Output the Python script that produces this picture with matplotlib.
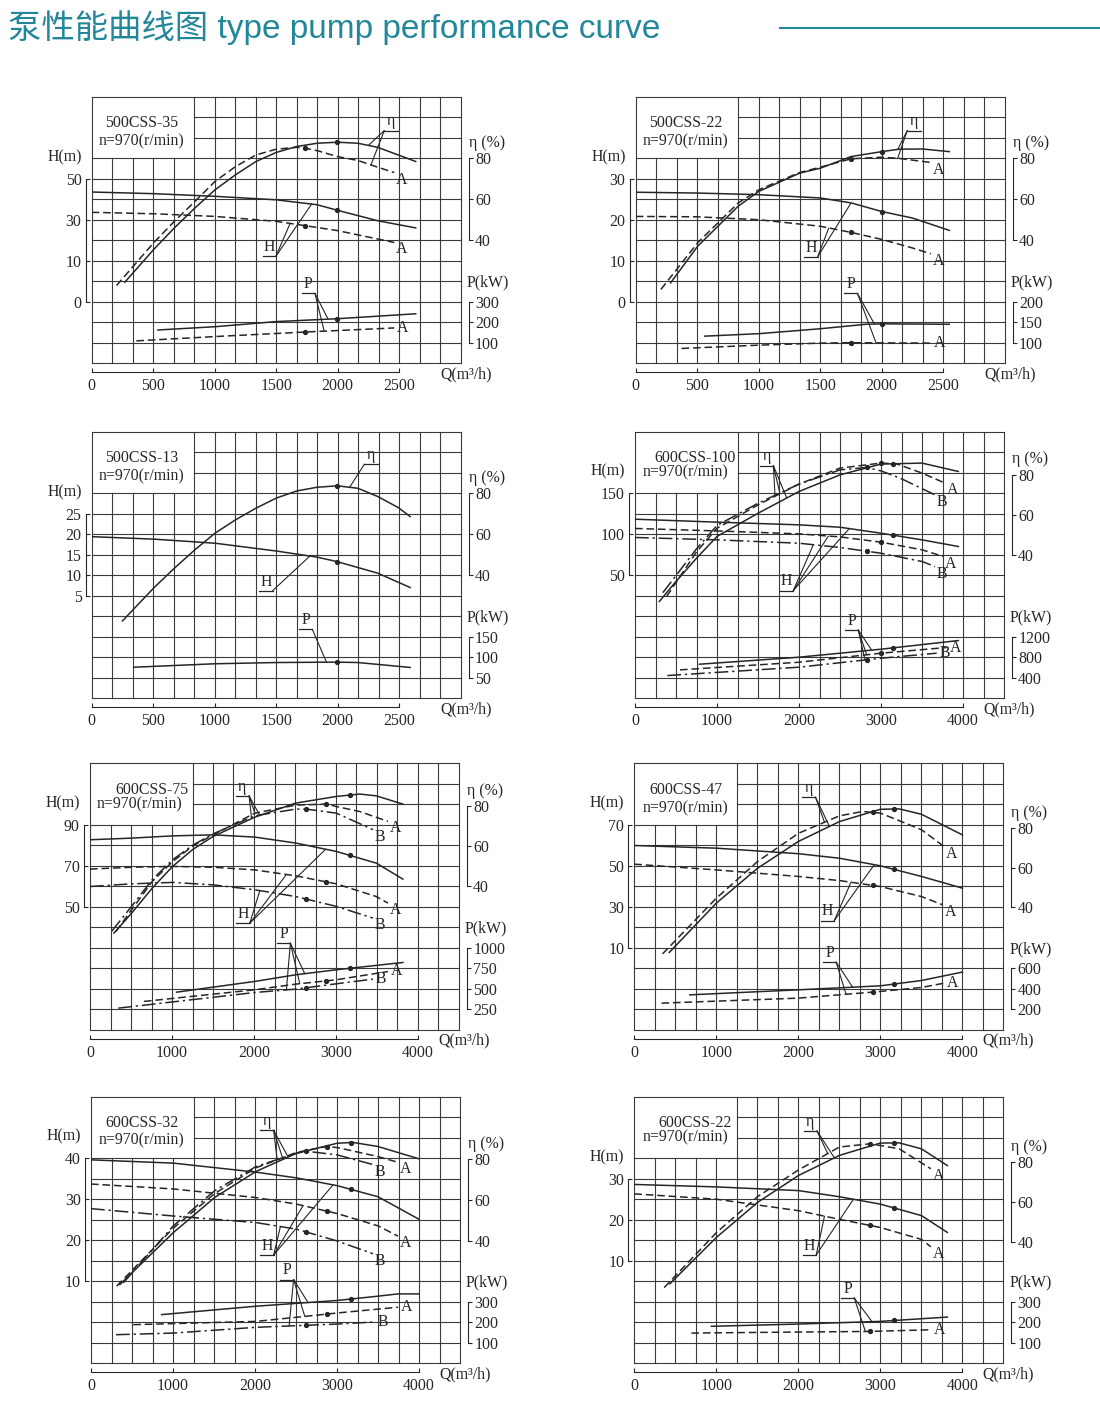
import matplotlib.pyplot as plt
from matplotlib.lines import Line2D
import numpy as np

plt.rcParams['font.family'] = ['Liberation Serif', 'DejaVu Serif']
plt.rcParams['axes.linewidth'] = 0.8

INK = '#262626'
GRID = '#3a3a3a'
TEAL = '#23879a'
FS = 11.4
PT = 72 / 100.0          # points per pixel (dpi 100)
FW, FH = 1100.0, 1409.0

### Data (Q in m3/h, H in m, eta in %, P in kW)
# 500CSS-35
a35_H_q = [0, 503, 1003, 1500, 1833, 1997, 2325, 2634]
a35_H = [43.5, 42.7, 41.4, 39.7, 37.3, 34.6, 29.5, 26.0]
a35_HA_q = [0, 503, 1003, 1500, 1734, 1997, 2460]
a35_HA = [33.6, 32.9, 31.6, 29.2, 27.1, 24.7, 18.9]
a35_E_q = [269, 503, 672, 839, 1003, 1169, 1336, 1500, 1667, 1833, 1997, 2164, 2325, 2492, 2634]
a35_E = [19.5, 35.4, 46.0, 55.7, 64.6, 71.9, 78.4, 82.8, 85.7, 87.3, 87.8, 87.3, 85.3, 81.6, 78.4]
a35_EA_q = [202, 503, 672, 839, 1003, 1169, 1336, 1500, 1667, 1734, 1833, 1997, 2164, 2325, 2460]
a35_EA = [17.9, 38.7, 49.2, 58.9, 68.7, 75.9, 81.6, 84.4, 85.3, 84.9, 83.7, 80.8, 78.9, 75.6, 73.0]
a35_P_q = [538, 1003, 1500, 1997, 2634]
a35_P = [162, 178, 203, 217, 241]
a35_PA_q = [363, 1003, 1734, 2460]
a35_PA = [109, 130, 152, 172]

# 500CSS-22
a22_H_q = [0, 503, 1000, 1500, 1751, 2000, 2251, 2549]
a22_H = [26.7, 26.5, 26.1, 25.3, 24.1, 22.0, 20.4, 17.4]
a22_HA_q = [0, 503, 1000, 1500, 1751, 2000, 2251, 2400]
a22_HA = [20.8, 20.7, 20.0, 18.4, 16.9, 15.2, 13.1, 11.7]
a22_E_q = [284, 503, 832, 1000, 1332, 1500, 1751, 2000, 2143, 2332, 2549]
a22_E = [19.2, 37.0, 56.5, 63.8, 72.7, 75.1, 80.8, 83.2, 84.4, 84.5, 83.2]
a22_EA_q = [205, 503, 832, 1000, 1332, 1500, 1751, 2000, 2143, 2400]
a22_EA = [16.0, 38.7, 58.1, 64.6, 73.0, 75.6, 79.7, 80.5, 79.9, 77.9]
a22_P_q = [562, 1000, 1500, 1873, 2000, 2549]
a22_P = [116, 122, 134, 145, 146, 145]
a22_PA_q = [373, 1000, 1500, 1751, 2400]
a22_PA = [86, 94, 99, 100, 99]

# 500CSS-13
a13_H_q = [0, 503, 1003, 1500, 1833, 1997, 2325, 2589]
a13_H = [19.4, 18.8, 17.8, 15.9, 14.4, 13.3, 10.5, 7.0]
a13_E_q = [250, 503, 672, 839, 1003, 1169, 1336, 1500, 1667, 1833, 1997, 2164, 2325, 2492, 2589]
a13_E = [17.7, 33.7, 43.4, 52.4, 60.5, 67.0, 72.7, 77.6, 81.1, 82.9, 83.6, 82.4, 78.4, 73.0, 68.6]
a13_P_q = [349, 1003, 1500, 1997, 2164, 2589]
a13_P = [75.6, 84, 87, 88, 87, 75]

# 600CSS-100
b100_H_q = [0, 1000, 2000, 2500, 3000, 3500, 3943]
b100_H = [118.3, 114.7, 111.4, 108.5, 101.2, 93.1, 85.0]
b100_HA_q = [0, 1000, 2000, 2500, 3000, 3500, 3760]
b100_HA = [107.0, 104.0, 100.4, 96.7, 90.3, 81.0, 72.8]
b100_HB_q = [0, 1000, 2000, 2500, 3000, 3500, 3659]
b100_HB = [96.0, 93.1, 89.0, 83.8, 76.8, 66.7, 60.6]
b100_E_q = [297, 500, 752, 1000, 1500, 2000, 2500, 3000, 3500, 3943]
b100_E = [16.6, 26.6, 38.3, 49.1, 60.7, 71.6, 79.9, 85.3, 85.8, 81.6]
b100_EA_q = [386, 752, 1000, 1500, 2000, 2500, 3000, 3191, 3500, 3780]
b100_EA = [19.1, 41.5, 53.2, 64.9, 75.3, 83.3, 85.8, 85.4, 80.8, 75.8]
b100_EB_q = [340, 752, 1000, 1500, 2000, 2500, 2825, 3000, 3232, 3659]
b100_EB = [21.0, 43.0, 54.6, 65.7, 75.3, 82.4, 83.6, 81.9, 78.3, 69.9]
b100_P_q = [785, 2000, 3000, 3943]
b100_P = [663, 800, 956, 1125]
b100_PA_q = [549, 2000, 3000, 3800]
b100_PA = [553, 702, 878, 989]
b100_PB_q = [394, 2000, 3000, 3679]
b100_PB = [442, 605, 780, 878]

# 600CSS-75
b75_H_q = [0, 507, 1007, 1502, 2010, 2509, 3004, 3492, 3816]
b75_H = [82.7, 83.5, 84.6, 85.1, 84.0, 81.1, 77.0, 71.3, 63.5]
b75_HA_q = [0, 507, 1007, 1502, 2010, 2509, 3004, 3492, 3634]
b75_HA = [68.4, 69.3, 69.7, 69.3, 68.0, 65.1, 61.2, 55.0, 51.8]
b75_HB_q = [0, 507, 1007, 1502, 2010, 2509, 3004, 3451]
b75_HB = [59.9, 61.2, 61.9, 60.7, 58.3, 55.0, 50.2, 44.5]
b75_E_q = [292, 507, 759, 1007, 1259, 1502, 2010, 2509, 3004, 3289, 3492, 3816]
b75_E = [16.7, 26.6, 39.1, 49.9, 58.5, 64.8, 74.4, 81.4, 84.7, 85.9, 85.0, 80.9]
b75_EA_q = [317, 507, 759, 1007, 1259, 1502, 2010, 2509, 2883, 3004, 3289, 3634]
b75_EA = [17.6, 28.3, 42.4, 52.3, 60.2, 65.6, 76.4, 80.4, 80.9, 79.7, 77.2, 72.3]
b75_EB_q = [264, 507, 759, 1007, 1259, 1502, 2010, 2509, 2639, 3004, 3451]
b75_EB = [17.6, 30.0, 43.3, 53.2, 60.6, 66.1, 75.1, 78.4, 78.4, 76.4, 68.2]
b75_P_q = [1056, 2010, 2509, 3004, 3816]
b75_P = [459, 590, 671, 732, 821]
b75_PA_q = [658, 2010, 2509, 3004, 3634]
b75_PA = [346, 488, 557, 610, 711]
b75_PB_q = [345, 2010, 2509, 3004, 3451]
b75_PB = [264, 455, 496, 561, 618]

# 600CSS-47
b47_H_q = [0, 1001, 2002, 2501, 3000, 3502, 4001]
b47_H = [59.9, 58.6, 55.9, 53.7, 50.0, 44.8, 39.1]
b47_HA_q = [0, 1001, 2002, 2501, 3000, 3502, 3758]
b47_HA = [50.8, 48.0, 44.8, 42.8, 39.9, 35.0, 31.0]
b47_E_q = [426, 1001, 1504, 2002, 2501, 3000, 3231, 3502, 4001]
b47_E = [17.3, 42.2, 59.8, 73.3, 83.3, 89.5, 89.7, 87.0, 76.6]
b47_EA_q = [345, 1001, 1504, 2002, 2501, 2785, 3000, 3502, 3778]
b47_EA = [16.6, 44.7, 63.2, 77.4, 86.2, 88.4, 87.6, 79.2, 70.7]
b47_P_q = [677, 2002, 3000, 3502, 4001]
b47_P = [341, 390, 429, 481, 563]
b47_PA_q = [332, 2002, 3000, 3502, 3778]
b47_PA = [260, 309, 374, 413, 455]

# 600CSS-32
b32_H_q = [0, 1004, 2011, 2505, 3003, 3500, 4000]
b32_H = [39.6, 38.8, 36.6, 35.2, 33.3, 30.6, 25.1]
b32_HA_q = [0, 1004, 2011, 2505, 3003, 3500, 3743]
b32_HA = [33.7, 32.5, 30.4, 28.8, 26.5, 23.5, 21.0]
b32_HB_q = [0, 1004, 2011, 2505, 3003, 3439]
b32_HB = [27.7, 25.9, 24.3, 22.7, 19.8, 16.7]
b32_E_q = [353, 1004, 1510, 2011, 2505, 3003, 3195, 3500, 4000]
b32_E = [18.9, 44.2, 61.4, 74.0, 82.9, 87.8, 88.2, 86.2, 80.2]
b32_EA_q = [313, 1004, 1510, 2011, 2505, 2870, 3003, 3500, 3743]
b32_EA = [18.1, 46.4, 63.3, 75.8, 83.3, 86.2, 85.7, 81.3, 78.5]
b32_EB_q = [394, 1004, 1510, 2011, 2505, 2627, 3003, 3439]
b32_EB = [19.7, 47.5, 64.7, 76.4, 82.9, 83.9, 82.1, 77.4]
b32_P_q = [861, 2011, 3003, 3500, 3743, 4000]
b32_P = [237, 278, 306, 327, 338, 338]
b32_PA_q = [516, 2011, 2627, 3003, 3743]
b32_PA = [188, 204, 229, 245, 273]
b32_PB_q = [305, 1004, 2011, 2627, 3003, 3459]
b32_PB = [139, 147, 175, 185, 191, 201]

# 600CSS-22
b22_H_q = [0, 1001, 2002, 2501, 3000, 3502, 3818]
b22_H = [28.6, 28.0, 27.1, 25.6, 23.8, 21.0, 16.9]
b22_HA_q = [0, 1001, 2002, 2501, 3000, 3502, 3616]
b22_HA = [26.3, 25.0, 22.2, 20.1, 18.1, 15.2, 13.4]
b22_E_q = [434, 1001, 1504, 2002, 2501, 3000, 3231, 3502, 3818]
b22_E = [18.8, 42.1, 59.7, 73.2, 83.3, 89.5, 89.6, 86.6, 78.2]
b22_EA_q = [365, 1001, 1504, 2002, 2501, 2866, 3000, 3231, 3616]
b22_EA = [16.9, 44.5, 62.6, 76.0, 87.5, 89.1, 88.3, 86.6, 76.6]
b22_P_q = [940, 2002, 3000, 3818]
b22_P = [180, 191, 204, 225]
b22_PA_q = [697, 2002, 2866, 3616]
b22_PA = [147, 152, 155, 163]

Q_SMALL = [0, 500, 1000, 1500, 2000, 2500]
Q_BIG = [0, 1000, 2000, 3000, 4000]
E_TICKS = [40, 60, 80]

panels = [
    dict(name='500CSS-35', left=91.7, top=96.7, qmax=3000, qticks=Q_SMALL,
         hlim=(-40, 90), hticks=[50, 30, 10, -10], hlabels=['50', '30', '10', '0'],
         elim=(-20, 110), plim=(0, 1300), pticks=[100, 200, 300],
         curves={'H': (a35_H_q, a35_H), 'HA': (a35_HA_q, a35_HA),
                 'E': (a35_E_q, a35_E), 'EA': (a35_EA_q, a35_EA),
                 'P': (a35_P_q, a35_P), 'PA': (a35_PA_q, a35_PA)},
         marks={'': 1997, 'A': 1734}, namepos=(0.136, 0.136, 0.832),
         leaders=[('η', 0.793, 0.873, 1, [('E', 2250), ('EA', 2270)]),
                  ('H', 0.499, 0.401, -1, [('H', 1788), ('HA', 1613)]),
                  ('P', 0.605, 0.262, -1, [('P', 1922), ('PA', 1890)])]),
    dict(name='500CSS-22', left=635.7, top=96.7, qmax=3000, qticks=Q_SMALL,
         hlim=(-15, 50), hticks=[30, 20, 10, 0], hlabels=['30', '20', '10', '0'],
         elim=(-20, 110), plim=(50, 700), pticks=[100, 150, 200],
         curves={'H': (a22_H_q, a22_H), 'HA': (a22_HA_q, a22_HA),
                 'E': (a22_E_q, a22_E), 'EA': (a22_EA_q, a22_EA),
                 'P': (a22_P_q, a22_P), 'PA': (a22_PA_q, a22_PA)},
         marks={'': 2000, 'A': 1751}, namepos=(0.136, 0.136, 0.832),
         leaders=[('η', 0.736, 0.873, 1, [('E', 2130), ('EA', 2130)]),
                  ('H', 0.493, 0.399, -1, [('H', 1751), ('HA', 1570)]),
                  ('P', 0.601, 0.262, -1, [('P', 1941), ('PA', 1954)])]),
    dict(name='500CSS-13', left=91.7, top=431.7, qmax=3000, qticks=Q_SMALL,
         hlim=(-20, 45), hticks=[25, 20, 15, 10, 5], hlabels=['25', '20', '15', '10', '5'],
         elim=(-20, 110), plim=(0, 650), pticks=[50, 100, 150],
         curves={'H': (a13_H_q, a13_H), 'E': (a13_E_q, a13_E), 'P': (a13_P_q, a13_P)},
         marks={'': 1997}, namepos=(0.136, 0.136, 0.832),
         leaders=[('η', 0.739, 0.878, 1, [('E', 2097)]),
                  ('H', 0.490, 0.403, -1, [('H', 1774)]),
                  ('P', 0.598, 0.258, -1, [('P', 1909)])]),
    dict(name='600CSS-100', left=635.0, top=431.7, qmax=4500, qticks=Q_BIG,
         hlim=(-100, 225), hticks=[150, 100, 50], hlabels=['150', '100', '50'],
         elim=(-31.8, 101.5), plim=(0, 5200), pticks=[400, 800, 1200],
         curves={'H': (b100_H_q, b100_H), 'HA': (b100_HA_q, b100_HA), 'HB': (b100_HB_q, b100_HB),
                 'E': (b100_E_q, b100_E), 'EA': (b100_EA_q, b100_EA), 'EB': (b100_EB_q, b100_EB),
                 'P': (b100_P_q, b100_P), 'PA': (b100_PA_q, b100_PA), 'PB': (b100_PB_q, b100_PB)},
         marks={'': 3150, 'A': 3000, 'B': 2825}, namepos=(0.162, 0.138, 0.848),
         leaders=[('η', 0.375, 0.873, -1, [('EB', 1707), ('EA', 1768), ('E', 1850)]),
                  ('H', 0.429, 0.404, -1, [('HB', 2175), ('HA', 2358), ('H', 2614)]),
                  ('P', 0.605, 0.256, -1, [('P', 2886), ('PA', 2825), ('PB', 2805)])]),
    dict(name='600CSS-75', left=90.0, top=763.3, qmax=4500, qticks=Q_BIG,
         hlim=(-10, 120), hticks=[90, 70, 50], hlabels=['90', '70', '50'],
         elim=(-31.4, 101.2), plim=(0, 3250), pticks=[250, 500, 750, 1000],
         curves={'H': (b75_H_q, b75_H), 'HA': (b75_HA_q, b75_HA), 'HB': (b75_HB_q, b75_HB),
                 'E': (b75_E_q, b75_E), 'EA': (b75_EA_q, b75_EA), 'EB': (b75_EB_q, b75_EB),
                 'P': (b75_P_q, b75_P), 'PA': (b75_PA_q, b75_PA), 'PB': (b75_PB_q, b75_PB)},
         marks={'': 3167, 'A': 2883, 'B': 2639}, namepos=(0.167, 0.135, 0.846),
         leaders=[('η', 0.431, 0.878, -1, [('EB', 1969), ('EA', 2010), ('E', 2071)]),
                  ('H', 0.433, 0.400, -1, [('HB', 2071), ('HA', 2395), ('H', 2874)]),
                  ('P', 0.543, 0.325, -1, [('PB', 2395), ('PA', 2558), ('P', 2619)])]),
    dict(name='600CSS-47', left=634.3, top=763.3, qmax=4500, qticks=Q_BIG,
         hlim=(-30, 100), hticks=[70, 50, 30, 10], hlabels=['70', '50', '30', '10'],
         elim=(-21.7, 112.7), plim=(0, 2600), pticks=[200, 400, 600],
         curves={'H': (b47_H_q, b47_H), 'HA': (b47_HA_q, b47_HA),
                 'E': (b47_E_q, b47_E), 'EA': (b47_EA_q, b47_EA),
                 'P': (b47_P_q, b47_P), 'PA': (b47_PA_q, b47_PA)},
         marks={'': 3170, 'A': 2915}, namepos=(0.14, 0.14, 0.831),
         leaders=[('η', 0.491, 0.873, -1, [('EA', 2319), ('E', 2380)]),
                  ('H', 0.542, 0.410, -1, [('HA', 2643), ('H', 2927)]),
                  ('P', 0.547, 0.254, -1, [('PA', 2582), ('P', 2663)])]),
    dict(name='600CSS-32', left=91.0, top=1096.7, qmax=4500, qticks=Q_BIG,
         hlim=(-10, 55), hticks=[40, 30, 20, 10], hlabels=['40', '30', '20', '10'],
         elim=(-19.5, 110.5), plim=(0, 1300), pticks=[100, 200, 300],
         curves={'H': (b32_H_q, b32_H), 'HA': (b32_HA_q, b32_HA), 'HB': (b32_HB_q, b32_HB),
                 'E': (b32_E_q, b32_E), 'EA': (b32_EA_q, b32_EA), 'EB': (b32_EB_q, b32_EB),
                 'P': (b32_P_q, b32_P), 'PA': (b32_PA_q, b32_PA), 'PB': (b32_PB_q, b32_PB)},
         marks={'': 3167, 'A': 2879, 'B': 2627}, namepos=(0.1375, 0.1375, 0.836),
         leaders=[('η', 0.495, 0.874, -1, [('EB', 2270), ('EA', 2335), ('E', 2404)]),
                  ('H', 0.495, 0.406, -1, [('HB', 2310), ('HA', 2586), ('H', 2952)]),
                  ('P', 0.549, 0.314, -1, [('PB', 2416), ('PA', 2607), ('P', 2647)])]),
    dict(name='600CSS-22', left=634.3, top=1096.7, qmax=4500, qticks=Q_BIG,
         hlim=(-15, 50), hticks=[30, 20, 10], hlabels=['30', '20', '10'],
         elim=(-21.1, 112.8), plim=(0, 1300), pticks=[100, 200, 300],
         curves={'H': (b22_H_q, b22_H), 'HA': (b22_HA_q, b22_HA),
                 'E': (b22_E_q, b22_E), 'EA': (b22_EA_q, b22_EA),
                 'P': (b22_P_q, b22_P), 'PA': (b22_PA_q, b22_PA)},
         marks={'': 3170, 'A': 2878}, namepos=(0.164, 0.14, 0.849),
         leaders=[('η', 0.495, 0.872, -1, [('EA', 2359), ('E', 2440)]),
                  ('H', 0.493, 0.406, -1, [('HA', 2319), ('H', 2672)]),
                  ('P', 0.596, 0.245, -1, [('PA', 2818), ('P', 2899)])]),
]

STYLES = {'': '-', 'A': (0, (5, 2.5)), 'B': (0, (9, 2.5, 1.5, 2.5))}


def frac(lim, v):
    return (v - lim[0]) / (lim[1] - lim[0])


def draw_panel(fig, p):
    w, h = 369.0, 266.5
    ax = fig.add_axes([p['left'] / FW, 1 - (p['top'] + h) / FH, w / FW, h / FH])
    ax.set_xlim(0, p['qmax'])
    ax.set_ylim(*p['hlim'])
    axe = ax.twinx()
    axe.set_ylim(*p['elim'])
    axp = ax.twinx()
    axp.set_ylim(*p['plim'])
    axmap = {'H': ax, 'E': axe, 'P': axp}

    # square grid 18 x 13 with the blank label box top left
    for k in range(19):
        y1 = 10 / 13 if 1 <= k <= 4 else 1
        ax.plot([k / 18, k / 18], [0, y1], transform=ax.transAxes, color=GRID,
                lw=0.8, clip_on=False, zorder=1)
    for j in range(14):
        x0 = 5 / 18 if j in (11, 12) else 0
        ax.plot([x0, 1], [j / 13, j / 13], transform=ax.transAxes, color=GRID,
                lw=0.8, clip_on=False, zorder=1)

    # axes lines
    for a in (ax, axe, axp):
        for s in a.spines.values():
            s.set_visible(False)
            s.set_color(INK)
            s.set_linewidth(0.8)
    sp = ax.spines['left']
    sp.set_visible(True)
    sp.set_position(('outward', 6 * PT))
    sp.set_bounds(min(p['hticks']), max(p['hticks']))
    sp = ax.spines['bottom']
    sp.set_visible(True)
    sp.set_position(('outward', 9 * PT))
    sp.set_bounds(0, p['qticks'][-1])
    ax.set_xticks(p['qticks'], [str(q) for q in p['qticks']])
    ax.set_yticks(p['hticks'], p['hlabels'])
    ax.tick_params(axis='x', direction='in', length=3, width=0.8, pad=4.5,
                   labelsize=FS, colors=INK)
    ax.tick_params(axis='y', direction='in', length=3, width=0.8, pad=3,
                   labelsize=FS, colors=INK)
    for a, ticks in ((axe, E_TICKS), (axp, p['pticks'])):
        sp = a.spines['right']
        sp.set_visible(True)
        sp.set_position(('outward', 8 * PT))
        sp.set_bounds(min(ticks), max(ticks))
        a.set_yticks(ticks, [str(t) for t in ticks])
        a.tick_params(axis='y', direction='out', length=3, width=0.8, pad=1.5,
                      labelsize=FS, colors=INK)

    # axis titles
    ax.text(-27 / w, frac(p['hlim'], max(p['hticks'])) + 1.05 / 13, 'H(m)',
            transform=ax.transAxes, ha='center', va='center', fontsize=FS, color=INK)
    ax.text(1 + 26 / w, frac(p['elim'], 80) + 0.057, 'η (%)',
            transform=ax.transAxes, ha='center', va='center', fontsize=FS, color=INK)
    ax.text(1 + 27 / w, frac(p['plim'], max(p['pticks'])) + 0.072, 'P(kW)',
            transform=ax.transAxes, ha='center', va='center', fontsize=FS, color=INK)
    ax.text(1 + 5 / w, -11 / h, 'Q(m³/h)', transform=ax.transAxes,
            ha='center', va='center', fontsize=FS, color=INK)

    # model name
    x1, x2, y2 = p['namepos']
    ax.text(x1, 0.90, p['name'], transform=ax.transAxes, ha='center', va='center',
            fontsize=FS, color=INK)
    ax.text(x2, y2, 'n=970(r/min)', transform=ax.transAxes, ha='center', va='center',
            fontsize=FS, color=INK)

    # curves
    for key, (qq, vv) in p['curves'].items():
        tax = axmap[key[0]]
        var = key[1:]
        tax.plot(qq, vv, color=INK, lw=1.1, ls=STYLES[var], zorder=3)
        if var in p['marks']:
            qm = p['marks'][var]
            tax.plot([qm], [np.interp(qm, qq, vv)], 'o', ms=2.8, color=INK, zorder=4)
        if var:
            off = (3 * PT, 0) if key[0] == 'P' else (2 * PT, -7 * PT)
            tax.annotate(var, xy=(qq[-1], vv[-1]), xytext=off, textcoords='offset points',
                         ha='left', va='center', fontsize=FS, color=INK)

    # leader lines with underlined labels
    for txt, xf, yf, side, targets in p['leaders']:
        xe = xf + side * 0.036
        ax.plot([xf, xe], [yf, yf], transform=ax.transAxes, color=INK, lw=0.9, zorder=5)
        ax.text((xf + xe) / 2, yf + 0.004, txt, transform=ax.transAxes, ha='center',
                va='bottom', fontsize=FS, color=INK)
        for key, qt in targets:
            qq, vv = p['curves'][key]
            tax = axmap[key[0]]
            ax.annotate('', xy=(qt, np.interp(qt, qq, vv)), xycoords=tax.transData,
                        xytext=(xf, yf), textcoords=ax.transAxes,
                        arrowprops=dict(arrowstyle='-', lw=0.8, color=INK,
                                        shrinkA=0, shrinkB=0))
    return ax


fig = plt.figure(figsize=(11, 14.09), dpi=100)
fig.text(8 / FW, 1 - 28 / FH, '泵性能曲线图 type pump performance curve',
         fontsize=24, color=TEAL, va='center', ha='left',
         family=['Liberation Sans', 'Noto Sans CJK SC'])
fig.add_artist(Line2D([780 / FW, 1.0], [1 - 28 / FH, 1 - 28 / FH], color=TEAL, lw=1.5))

for p in panels:
    draw_panel(fig, p)

fig.savefig('out.png', dpi=100)
